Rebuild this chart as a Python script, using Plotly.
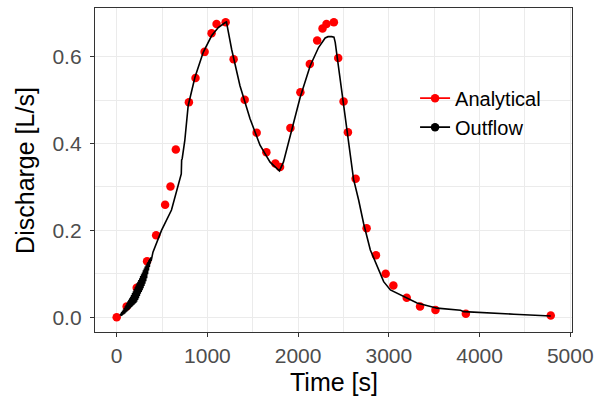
import plotly.graph_objects as go

# Analytical solution (red points)
ana_t = [0, 110, 221, 335, 435, 534, 593, 652, 796, 869, 969, 1046, 1101, 1201,
         1289, 1411, 1543, 1650, 1749, 1801, 1915, 2025, 2129, 2210, 2269, 2313,
         2394, 2442, 2501, 2549, 2634, 2755, 2858, 2965, 3050, 3197, 3344, 3514,
         3849, 4785]
ana_q = [0.000, 0.025, 0.068, 0.129, 0.189, 0.259, 0.301, 0.386, 0.495, 0.551,
         0.611, 0.654, 0.675, 0.679, 0.594, 0.501, 0.425, 0.380, 0.354, 0.346,
         0.436, 0.518, 0.583, 0.637, 0.665, 0.675, 0.679, 0.597, 0.497, 0.426,
         0.319, 0.205, 0.143, 0.100, 0.073, 0.045, 0.025, 0.017, 0.008, 0.004]

# Measured outflow (black line)
out_t = [40, 45, 50, 55, 60, 65, 70, 75, 80, 85, 90, 95, 100, 105, 110, 115,
         120, 125, 130, 135, 140, 145, 150, 155, 160, 165, 170, 175, 180, 185,
         190, 195, 200, 205, 210, 215, 220, 225, 230, 235, 240, 245, 250, 255,
         260, 265, 270, 275, 280, 285, 290, 295, 300, 305, 310, 315, 320, 325,
         330, 335, 340, 345, 350, 355, 360, 365, 370, 375, 380, 400,
         494, 604, 677, 712, 716, 722, 751,
         788, 862, 954, 1046, 1120, 1193, 1210, 1267, 1359, 1470, 1580, 1691,
         1794, 1838, 1912, 2022, 2133, 2225, 2298, 2330, 2370, 2395, 2409, 2434,
         2483, 2538, 2611, 2667, 2722, 2796, 2869, 2943, 3017, 3164, 3311, 3459,
         3532, 3790, 3827, 4379, 4785]
out_q = [0.004, 0.008, 0.003, 0.012, 0.004, 0.015, 0.006, 0.018, 0.007, 0.021,
         0.009, 0.025, 0.011, 0.029, 0.013, 0.033, 0.015, 0.037, 0.017, 0.040,
         0.019, 0.044, 0.021, 0.047, 0.023, 0.051, 0.025, 0.056, 0.027, 0.060,
         0.029, 0.065, 0.031, 0.069, 0.033, 0.073, 0.036, 0.078, 0.040, 0.082,
         0.044, 0.086, 0.049, 0.090, 0.054, 0.095, 0.058, 0.099, 0.062, 0.103,
         0.067, 0.108, 0.072, 0.112, 0.077, 0.117, 0.083, 0.120, 0.090, 0.124,
         0.099, 0.127, 0.108, 0.131, 0.116, 0.134, 0.124, 0.138, 0.130, 0.150,
         0.200, 0.247, 0.300, 0.330,
         0.362, 0.365, 0.407, 0.487, 0.552, 0.610, 0.648, 0.667, 0.678, 0.680,
         0.617, 0.533, 0.457, 0.396, 0.357, 0.337, 0.357, 0.419, 0.506, 0.579,
         0.621, 0.643, 0.646, 0.646, 0.645, 0.633, 0.594, 0.510, 0.426, 0.318,
         0.270, 0.216, 0.155, 0.117, 0.082, 0.063, 0.048, 0.033, 0.025, 0.021,
         0.016, 0.013, 0.007, 0.003]

x_ticks = [0, 1000, 2000, 3000, 4000, 5000]
y_ticks = [0.0, 0.2, 0.4, 0.6]
y_tick_labels = ["0.0", "0.2", "0.4", "0.6"]

FONT = "Liberation Sans, Arial, sans-serif"

fig = go.Figure()
fig.add_trace(go.Scatter(
    x=ana_t, y=ana_q, mode="markers", name="Analytical",
    marker=dict(color="#FF0000", size=8.5),
    showlegend=False))
fig.add_trace(go.Scatter(
    x=out_t, y=out_q, mode="lines", name="Outflow",
    line=dict(color="black", width=1.6),
    showlegend=False))
# legend entries (line + point keys, as in the original legend)
fig.add_trace(go.Scatter(
    x=[None], y=[None], mode="lines+markers", name="Analytical",
    line=dict(color="#FF0000", width=1.6), marker=dict(color="#FF0000", size=8.5)))
fig.add_trace(go.Scatter(
    x=[None], y=[None], mode="lines+markers", name="Outflow",
    line=dict(color="black", width=1.6), marker=dict(color="black", size=8.5)))

axis_common = dict(
    showgrid=True, gridcolor="#EBEBEB", gridwidth=1.4, automargin=False,
    zeroline=False, showline=True, linecolor="#333333", linewidth=1.3, mirror=True,
    ticks="outside", ticklen=4, tickwidth=1.3, tickcolor="#333333",
    tickfont=dict(family=FONT, size=21, color="#4D4D4D"),
)

fig.update_layout(
    width=595, height=401,
    margin=dict(l=95, r=23, t=8, b=69),
    paper_bgcolor="white", plot_bgcolor="white",
    font=dict(family=FONT, color="black"),
    xaxis=dict(**axis_common, range=[-239, 5019], tickvals=x_ticks,
               minor=dict(tickvals=[500, 1500, 2500, 3500, 4500], showgrid=True,
                          gridcolor="#EBEBEB", gridwidth=0.7),
               ticklabelstandoff=1),
    yaxis=dict(**axis_common, range=[-0.0339, 0.712], tickvals=y_ticks,
               ticktext=y_tick_labels,
               minor=dict(tickvals=[0.1, 0.3, 0.5], showgrid=True,
                          gridcolor="#EBEBEB", gridwidth=0.7),
               ticklabelstandoff=4),
    legend=dict(x=0.671, y=0.782, xanchor="left", yanchor="top",
                bgcolor="rgba(0,0,0,0)", font=dict(family=FONT, size=20, color="black"),
                tracegroupgap=0, itemwidth=30),
    annotations=[
        dict(text="Time [s]", xref="paper", yref="paper", x=0.5, y=-0.155,
             xanchor="center", yanchor="middle", showarrow=False,
             font=dict(family=FONT, size=25, color="black")),
        dict(text="Discharge [L/s]", xref="paper", yref="paper", x=-0.147, y=0.5,
             xanchor="center", yanchor="middle", showarrow=False, textangle=-90,
             font=dict(family=FONT, size=25, color="black")),
    ],
)

fig.write_html("out.html", config={"displayModeBar": False},
               post_script="document.body.style.margin='0';document.body.style.padding='0';")
